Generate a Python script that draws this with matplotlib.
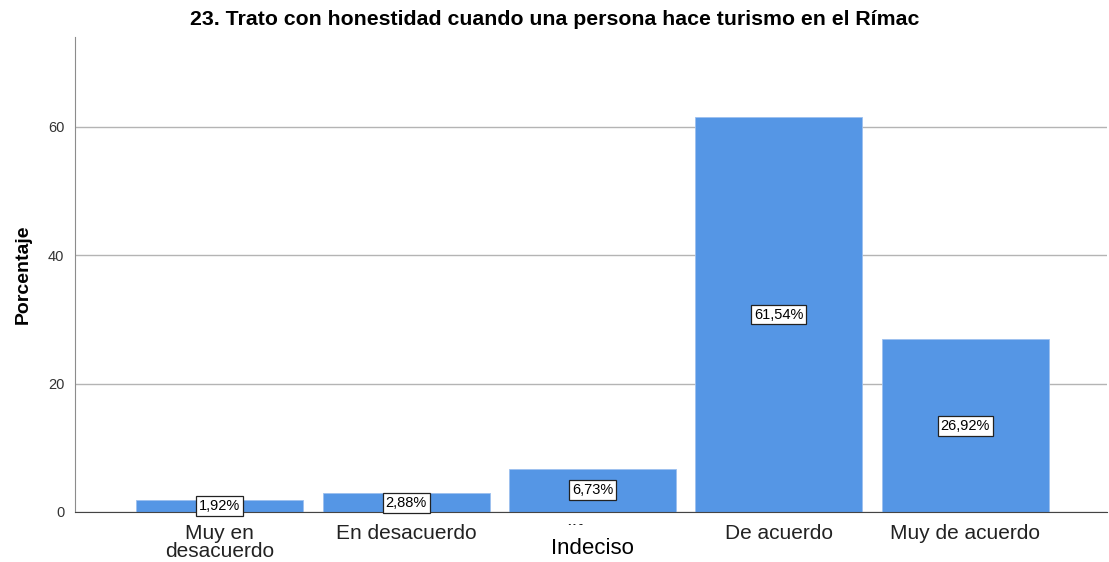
import matplotlib.pyplot as plt
import numpy as np

plt.rcParams["font.family"] = ["Liberation Sans", "DejaVu Sans"]

categories = ["Muy en\ndesacuerdo", "En desacuerdo", "Indiferente", "De acuerdo", "Muy de acuerdo"]
percent = [1.92, 2.88, 6.73, 61.54, 26.92]
y_ticks = [0, 20, 40, 60]

BAR_COLOR = "#5596e5"

fig = plt.figure(figsize=(11.09, 5.62), dpi=100)
ax = fig.add_axes([0.068, 0.089, 0.93, 0.845])

x = np.arange(len(categories))
ax.bar(x, percent, width=0.895, color=BAR_COLOR, edgecolor="#9cc0ef", linewidth=0.6, zorder=2)

for xi, val in zip(x, percent):
    label = f"{val:.2f}%".replace(".", ",")
    ax.text(xi, val / 2, label, ha="center", va="center", fontsize=10.5, zorder=4,
            bbox=dict(boxstyle="square,pad=0.2", facecolor="white", edgecolor="#222222", linewidth=0.9))

ax.set_xlim(-0.775, 4.76)
ax.set_ylim(0, 74)
ax.set_yticks(y_ticks)
ax.set_yticklabels([str(t) for t in y_ticks], fontsize=10.5, color="#333333")
ax.set_xticks(x)
ax.set_xticklabels(categories, fontsize=15, linespacing=0.9, color="#222222")
ax.tick_params(axis="x", length=0, pad=9)
ax.tick_params(axis="y", length=0, pad=8)
ax.yaxis.grid(True, color="#b4b4b4", linewidth=1.0, zorder=0)
ax.set_axisbelow(True)

for side in ["top", "right"]:
    ax.spines[side].set_visible(False)
ax.spines["left"].set_color("#8c8c8c")
ax.spines["bottom"].set_color("#444444")

ax.set_ylabel("Porcentaje", fontsize=14, fontweight="bold", labelpad=12)
fig.text(0.5, 0.965, "23. Trato con honestidad cuando una persona hace turismo en el Rímac",
         ha="center", va="center", fontsize=15.3, fontweight="bold")

# x-axis title drawn over the third tick label, as in the source
ax.annotate("Indeciso", xy=(2, 0), xycoords=("data", "axes fraction"),
            xytext=(0, -26), textcoords="offset points", ha="center", va="center",
            fontsize=16, zorder=5,
            bbox=dict(boxstyle="square,pad=0.55", facecolor="white", edgecolor="none"),
            annotation_clip=False)

fig.savefig("out.png", dpi=100)
